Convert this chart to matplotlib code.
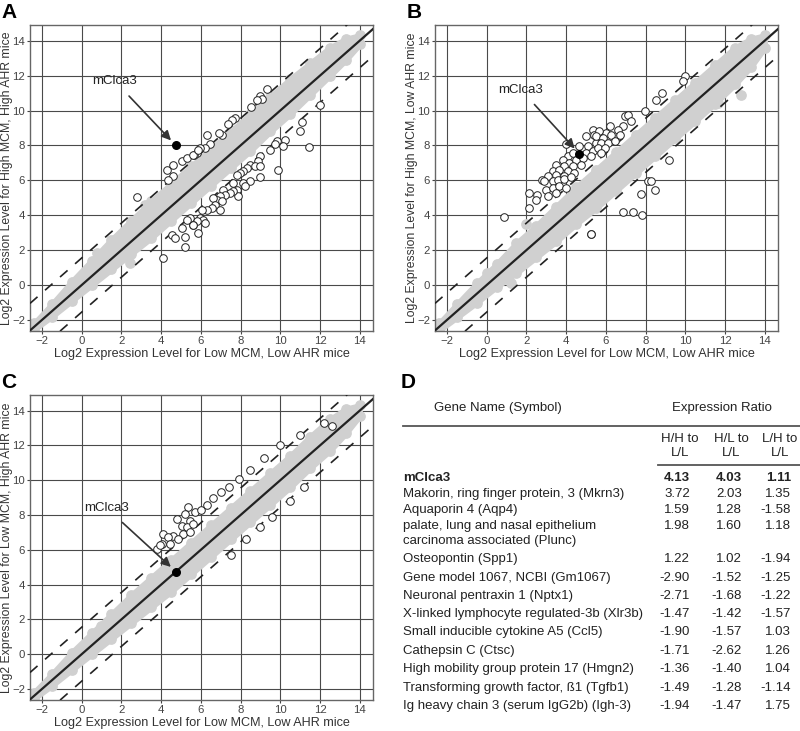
import matplotlib.pyplot as plt

# panel A: High/High vs Low/Low
band_x = [-2.4, -1.5, -0.5, 0.5, 1.5, 2.5, 3.5, 4.5, 5.5, 6.5, 7.5, 8.5, 9.5, 10.5, 11.5, 12.5, 13.3, 14.0]
a_band_lo = [-2.55, -1.8, -0.9, 0.0, 0.9, 1.8, 2.7, 3.7, 4.7, 5.7, 6.7, 7.7, 8.8, 9.8, 10.9, 12.0, 12.9, 13.8]
a_band_hi = [-2.2, -1.1, 0.2, 1.4, 2.6, 3.7, 4.8, 5.8, 6.8, 7.8, 8.8, 9.8, 10.8, 11.8, 12.7, 13.6, 14.1, 14.3]
a_gray_x = [0.76, 2.43, 1.9, 3.2]
a_gray_y = [1.83, 1.26, 2.3, 4.6]
a_open_x = [9.35, 8.98, 9.07, 8.82, 8.53, 7.72, 7.56, 7.35, 7.05, 6.92, 6.30, 6.46, 6.21, 5.96, 5.79, 5.66,
            4.28, 4.61, 5.04, 5.29, 5.59, 5.87, 4.61, 4.36, 2.77,
            12.0, 11.08, 11.0, 10.24, 9.82, 9.74, 10.13, 11.47, 9.49, 8.98, 8.90, 8.48, 8.73, 8.98, 8.31, 8.14,
            9.91, 7.97, 7.81, 8.98, 8.48, 8.14, 8.23, 7.64, 7.81, 7.89, 7.64, 7.47, 7.14, 7.22, 6.97, 6.80,
            6.63, 7.05, 6.72, 6.55, 6.97, 6.30, 6.05, 5.96, 6.13, 6.21, 5.79, 5.62, 5.87, 5.46, 5.62, 5.29,
            5.04, 4.53, 4.70, 5.20, 5.20, 4.08]
a_open_y = [11.26, 10.82, 10.67, 10.63, 10.21, 9.58, 9.43, 9.25, 8.62, 8.72, 8.57, 8.11, 7.86, 7.86, 7.57, 7.47,
            6.61, 6.90, 7.09, 7.28, 7.47, 7.76, 6.23, 6.04, 5.02,
            10.29, 9.33, 8.85, 8.34, 8.24, 8.11, 7.95, 7.92, 7.72, 7.42, 7.09, 6.90, 6.84, 6.80, 6.71, 6.56,
            6.57, 6.42, 6.33, 6.17, 5.94, 5.85, 5.65, 5.85, 5.47, 5.08, 5.37, 5.27, 5.47, 5.18, 5.08, 4.89,
            4.99, 4.79, 4.60, 4.41, 4.32, 4.32, 4.32, 3.84, 3.74, 3.55, 3.65, 3.46, 2.98, 3.84, 3.46, 3.74,
            3.27, 2.88, 2.69, 2.78, 2.21, 1.58]
a_gene = (4.74, 8.0)

# panel B: High/Low vs Low/Low
b_band_lo = [-2.6, -1.85, -1.0, -0.1, 0.7, 1.6, 2.5, 3.5, 4.4, 5.4, 6.4, 7.4, 8.4, 9.4, 10.4, 11.5, 12.5, 13.6]
b_band_hi = [-2.2, -1.1, 0.1, 1.2, 2.4, 3.4, 4.5, 5.6, 6.6, 7.6, 8.6, 9.6, 10.6, 11.6, 12.6, 13.6, 14.1, 14.3]
b_gray_x = [1.21, 0.0, 11.66, 12.8, 2.0]
b_gray_y = [0.11, 0.7, 10.45, 10.9, 3.5]
b_open_x = [5.34, 5.01, 5.43, 4.00, 4.67, 5.09, 5.52, 4.08, 4.33, 5.01, 5.34, 3.83, 4.17, 4.50, 4.84, 5.26,
            3.49, 3.91, 4.33, 4.76, 3.32, 3.66, 4.08, 4.42, 3.07, 3.49, 3.91, 2.81,
            9.99, 9.90, 8.81, 8.55, 7.96, 6.95, 7.12, 7.29, 6.86, 6.61, 6.19, 6.02, 5.68, 5.52, 5.85, 6.27,
            6.70, 5.77, 6.10, 6.44, 5.60, 5.94, 5.77,
            2.90, 3.32, 3.57, 3.91, 4.25, 2.99, 3.32, 3.66, 4.00, 2.56, 2.48, 2.14, 2.14, 3.07, 3.49, 0.88,
            9.18, 5.23, 8.13, 8.30, 8.47, 7.79, 6.86, 7.37, 7.84, 5.26]
b_open_y = [8.91, 8.52, 8.62, 8.11, 7.95, 7.95, 8.15, 7.38, 7.57, 7.57, 7.66, 7.19, 7.00, 7.19, 7.28, 7.38,
            6.90, 6.80, 6.80, 6.90, 6.52, 6.61, 6.52, 6.42, 6.23, 6.33, 6.23, 6.04,
            11.97, 11.68, 11.02, 10.63, 9.96, 9.67, 9.77, 9.39, 9.10, 8.91, 9.10, 8.72, 8.81, 8.52, 8.43, 8.62,
            8.62, 8.15, 8.15, 8.24, 7.86, 7.86, 7.57,
            5.94, 5.94, 6.04, 6.10, 6.17, 5.47, 5.56, 5.65, 5.56, 5.18, 4.89, 5.27, 4.41, 5.08, 5.27, 3.88,
            7.19, 2.94, 5.94, 5.98, 5.47, 5.22, 4.16, 4.18, 4.03, 2.92]
b_gene = (4.67, 7.53)

# panel C: Low/High vs Low/Low
c_band_lo = [-2.55, -1.8, -0.9, 0.0, 0.9, 1.8, 2.7, 3.6, 4.6, 5.6, 6.6, 7.6, 8.6, 9.6, 10.7, 11.7, 12.7, 13.7]
c_band_hi = [-2.2, -1.15, 0.1, 1.2, 2.3, 3.4, 4.4, 5.4, 6.4, 7.4, 8.4, 9.4, 10.4, 11.4, 12.5, 13.5, 14.1, 14.3]
c_gray_x = [1.0, 2.5]
c_gray_y = [1.6, 2.0]
c_open_x = [5.37, 4.79, 5.20, 5.71, 5.46, 5.04, 5.29, 5.62, 4.61, 5.12, 5.46, 4.11, 4.36, 4.45, 4.87,
            4.03, 3.78, 3.95, 6.0, 6.3, 6.6, 7.0, 7.4, 7.9, 8.5, 9.2, 10.0, 11.0, 12.2, 12.6,
            7.5, 8.3, 9.0, 9.6, 10.5, 11.2]
c_open_y = [8.44, 7.77, 8.06, 8.15, 7.67, 7.39, 7.30, 7.49, 6.82, 6.91, 7.01, 6.91, 6.73, 6.34, 6.63,
            6.34, 6.06, 6.25, 8.3, 8.6, 9.0, 9.3, 9.6, 10.1, 10.6, 11.3, 12.0, 12.6, 13.3, 13.1,
            5.7, 6.6, 7.3, 7.9, 8.8, 9.6]
c_gene = (4.75, 4.75)

x_label = 'Log2 Expression Level for Low MCM, Low AHR mice'
y_labels = ['Log2 Expression Level for High MCM, High AHR mice',
            'Log2 Expression Level for High MCM, Low AHR mice',
            'Log2 Expression Level for Low MCM, High AHR mice']

# panel D table
genes = ['mClca3', 'Makorin, ring finger protein, 3 (Mkrn3)', 'Aquaporin 4 (Aqp4)',
         'palate, lung and nasal epithelium\ncarcinoma associated (Plunc)', 'Osteopontin (Spp1)',
         'Gene model 1067, NCBI (Gm1067)', 'Neuronal pentraxin 1 (Nptx1)',
         'X-linked lymphocyte regulated-3b (Xlr3b)', 'Small inducible cytokine A5 (Ccl5)',
         'Cathepsin C (Ctsc)', 'High mobility group protein 17 (Hmgn2)',
         'Transforming growth factor, \u00df1 (Tgfb1)', 'Ig heavy chain 3 (serum IgG2b) (Igh-3)']
hh_ll = [4.13, 3.72, 1.59, 1.98, 1.22, -2.90, -2.71, -1.47, -1.90, -1.71, -1.36, -1.49, -1.94]
hl_ll = [4.03, 2.03, 1.28, 1.60, 1.02, -1.52, -1.68, -1.42, -1.57, -2.62, -1.40, -1.28, -1.47]
lh_ll = [1.11, 1.35, -1.58, 1.18, -1.94, -1.25, -1.22, -1.57, 1.03, 1.26, 1.04, -1.14, 1.75]
row_y = [478, 494, 510, 526, 541, 559, 578, 596, 614, 632, 651, 669, 688, 706]

plt.rcParams['font.family'] = ['Liberation Sans', 'DejaVu Sans']
fig = plt.figure(figsize=(8, 7.31), dpi=100)

W, H = 800, 731
GRAY = '#d0d0d0'


def box(l, t, r, b):
    return [l / W, 1 - b / H, (r - l) / W, (b - t) / H]


def scatter_panel(pos, lo, hi, gray, opn, gene, ylab, letter, label_xy):
    ax = fig.add_axes(box(*pos))
    ax.set_xlim(-2.6, 14.67)
    ax.set_ylim(-2.63, 14.9)
    ax.set_xticks(range(-2, 15, 2))
    ax.set_yticks(range(-2, 15, 2))
    ax.grid(True, color='#4a4a4a', lw=0.8)
    ax.set_axisbelow(True)
    ax.fill_between(band_x, lo, hi, color=GRAY, lw=4, edgecolor=GRAY, zorder=2)
    ax.scatter(band_x, lo, s=45, color=GRAY, zorder=2)
    ax.scatter(band_x, hi, s=45, color=GRAY, zorder=2)
    ax.scatter(gray[0], gray[1], s=45, color=GRAY, zorder=2)
    ax.plot([-2.6, 14.67], [-2.6, 14.67], color='#222222', lw=1.6, zorder=3)
    ax.plot([-2.6, 14.67], [-2.6 + 1.55, 14.67 + 1.55], color='#222222', lw=1.2, ls=(0, (6, 6)), zorder=3)
    ax.plot([-2.6, 14.67], [-2.6 - 1.55, 14.67 - 1.55], color='#222222', lw=1.2, ls=(0, (6, 6)), zorder=3)
    ax.scatter(opn[0], opn[1], s=30, facecolor='white', edgecolor='#222222', lw=0.7, zorder=4)
    ax.scatter([gene[0]], [gene[1]], s=30, color='black', zorder=5)
    ax.annotate('mClca3', xy=gene, xytext=label_xy, fontsize=9.5, ha='center', va='center', zorder=6,
                color='#222222',
                arrowprops=dict(arrowstyle='-|>', color='#333333', lw=1.2, shrinkA=6, shrinkB=5,
                                mutation_scale=14))
    for s in ax.spines.values():
        s.set_color('#666666')
        s.set_linewidth(1)
    ax.tick_params(length=2.5, color='#444444', labelsize=8.2, labelcolor='#444444', pad=1)
    ax.set_xlabel(x_label, fontsize=9.1, color='#333333')
    ax.set_ylabel(ylab, fontsize=8.8, color='#333333')
    ax.yaxis.set_label_coords(-0.049, 0.5)
    ax.xaxis.set_label_coords(0.5, -0.056)
    ax.text(-0.083, 1.01, letter, transform=ax.transAxes, fontsize=15, fontweight='bold',
            ha='left', va='bottom')
    return ax


scatter_panel((30, 25, 373, 331), a_band_lo, a_band_hi, (a_gray_x, a_gray_y),
              (a_open_x, a_open_y), a_gene, y_labels[0], 'A', (1.68, 11.68))
scatter_panel((435, 25, 778, 331), b_band_lo, b_band_hi, (b_gray_x, b_gray_y),
              (b_open_x, b_open_y), b_gene, y_labels[1], 'B', (1.72, 11.2))
scatter_panel((30, 395, 373, 700), c_band_lo, c_band_hi, (c_gray_x, c_gray_y),
              (c_open_x, c_open_y), c_gene, y_labels[2], 'C', (1.26, 8.4))

# table panel
tx = fig.add_axes([0, 0, 1, 1])
tx.set_xlim(0, W)
tx.set_ylim(H, 0)
tx.axis('off')
tx.text(401, 383, 'D', fontsize=15, fontweight='bold', ha='left', va='center')
tc = '#222222'
tx.text(498, 408, 'Gene Name (Symbol)', fontsize=9.5, ha='center', va='center', color=tc)
tx.text(722, 408, 'Expression Ratio', fontsize=9.5, ha='center', va='center', color=tc)
tx.plot([403, 800], [426, 426], color='#555555', lw=1.3)
for cx, hd in zip([680, 731, 780], ['H/H to\nL/L', 'H/L to\nL/L', 'L/H to\nL/L']):
    tx.text(cx, 446, hd, fontsize=9.5, ha='center', va='center', color=tc, linespacing=1.25)
tx.plot([658, 800], [465, 465], color='#555555', lw=1.3)

yi = 0
for i, g in enumerate(genes):
    w = 'bold' if i == 0 else 'normal'
    y = row_y[yi]
    if '\n' in g:
        tx.text(403, y, g.split('\n')[0], fontsize=9.5, ha='left', va='center', color=tc)
        tx.text(403, row_y[yi + 1], g.split('\n')[1], fontsize=9.5, ha='left', va='center', color=tc)
        yi += 2
    else:
        tx.text(403, y, g, fontsize=9.5, ha='left', va='center', color=tc, fontweight=w)
        yi += 1
    for rx, vals in zip([690, 742, 791], [hh_ll, hl_ll, lh_ll]):
        tx.text(rx, y, '%.2f' % vals[i], fontsize=9.5, ha='right', va='center', color=tc, fontweight=w)

fig.savefig('out.png', dpi=100)
